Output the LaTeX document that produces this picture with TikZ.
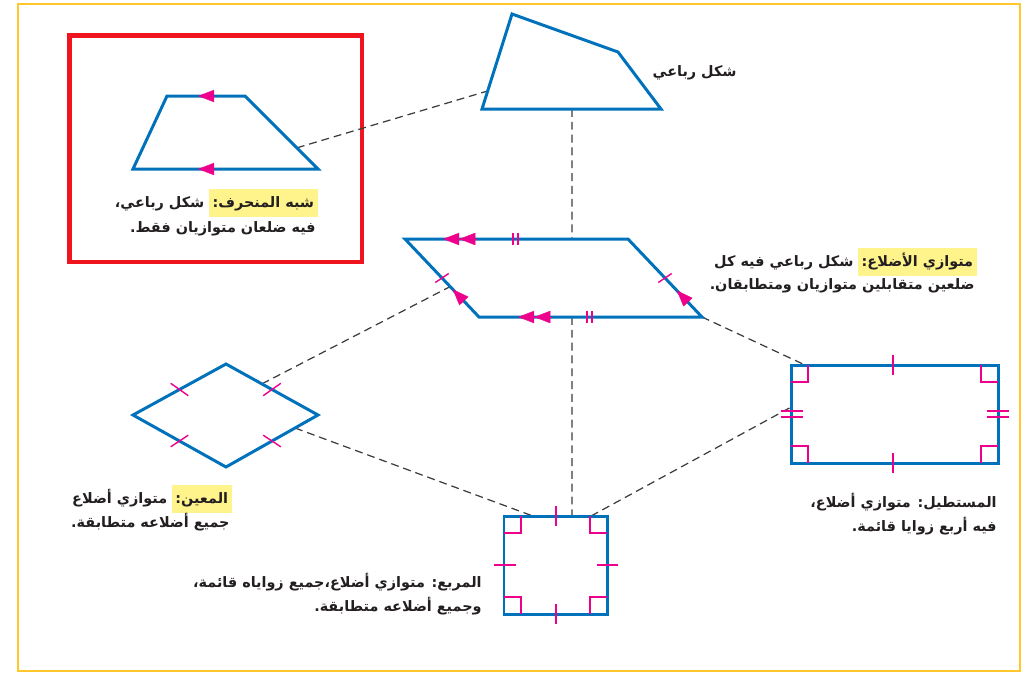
\documentclass[tikz,border=0pt]{standalone}
\usepackage{fontspec}
\newfontfamily\arabicfont[Script=Arabic]{DejaVu Sans}
\TeXXeTstate=1
\usetikzlibrary{arrows.meta,calc}
\definecolor{figblue}{RGB}{0,114,188}
\definecolor{figpink}{RGB}{236,0,140}
\definecolor{boxred}{RGB}{240,20,30}
\definecolor{frameyellow}{RGB}{255,199,44}
\definecolor{hlyellow}{RGB}{255,244,140}
\definecolor{linkgray}{RGB}{60,60,60}
\definecolor{textblack}{RGB}{35,31,32}
\tikzset{figline/.style = {draw = figblue,
                           line width = 1.7pt,
                           line join = miter},
         pinkline/.style = {draw = figpink,
                            line width = 0.8pt},
         pinktip/.style = {draw = figpink,
                           fill = figpink,
                           line width = 0.2pt,
                           -{Triangle[length=9.2pt,width=7pt]}},
         pinktwotips/.style = {draw = figpink,
                               fill = figpink,
                               line width = 0.2pt,
                               -{Triangle[length=9.2pt,width=7pt,sep=0pt] Triangle[length=9.2pt,width=7pt]}},
         link/.style = {draw = linkgray,
                        dash pattern = on 4.5pt off 2.8pt,
                        line width = 0.7pt},
         lbl/.style = {anchor = base east,
                       inner sep = 0pt,
                       text = textblack,
                       font = \arabicfont\bfseries\fontsize{8.2}{11}\selectfont},
         keyword/.style = {lbl,
                           fill = hlyellow,
                           inner xsep = 2pt,
                           inner ysep = 3pt,
                           text height = 7pt,
                           text depth = 2.5pt}}

\begin{document}
\begin{tikzpicture}[x=0.02cm, y=-0.02cm]
		\useasboundingbox (0,0) rectangle (1021,674);
		\draw[frameyellow, line width=1.2pt] (18,4) rectangle (1020,671);
		\draw[boxred, line width=2.5pt] (69.5,35.3) rectangle (361.7,261.8);

		% corners of the figures
		\coordinate (t1) at (167,96);
		\coordinate (t2) at (245,96);
		\coordinate (t3) at (318,169);
		\coordinate (t4) at (133,169);
		\coordinate (q1) at (512,14);
		\coordinate (q2) at (618,52);
		\coordinate (q3) at (661,109);
		\coordinate (q4) at (482,109);
		\coordinate (p1) at (405,239);
		\coordinate (p2) at (628,239);
		\coordinate (p3) at (702,317);
		\coordinate (p4) at (479,317);
		\coordinate (r1) at (226,364);
		\coordinate (r2) at (318,415);
		\coordinate (r3) at (226,467);
		\coordinate (r4) at (133,415);
		\coordinate (s1) at (504,516);
		\coordinate (s2) at (607,516);
		\coordinate (s3) at (607,614);
		\coordinate (s4) at (504,614);
		\coordinate (e1) at (791,365);
		\coordinate (e2) at (998,365);
		\coordinate (e3) at (998,463);
		\coordinate (e4) at (791,463);

		% dashed links
		\coordinate (trapTo) at ($(t2)!0.71!(t3)$);
		\coordinate (quadL) at ($(q1)!0.81!(q4)$);
		\coordinate (quadB) at ($(q4)!0.503!(q3)$);
		\coordinate (paraT) at ($(p1)!0.749!(p2)$);
		\coordinate (paraB) at ($(p4)!0.417!(p3)$);
		\coordinate (paraL) at ($(p1)!0.61!(p4)$);
		\coordinate (rhomUp) at ($(r1)!0.39!(r2)$);
		\coordinate (rhomDown) at ($(r2)!0.25!(r3)$);
		\coordinate (sqA) at ($(s1)!0.28!(s2)$);
		\coordinate (sqB) at ($(s1)!0.66!(s2)$);
		\coordinate (sqC) at ($(s1)!0.845!(s2)$);
		\coordinate (rectT) at ($(e1)!0.068!(e2)$);
		\coordinate (rectL) at ($(e1)!0.43!(e4)$);
		\path[link] (trapTo) edge (quadL);
		\path[link] (quadB) edge (paraT);
		\path[link] (paraB) edge (sqB);
		\path[link] (rhomUp) edge (paraL);
		\path[link] (rhomDown) edge (sqA);
		\path[link] (p3) edge (rectT);
		\path[link] (sqC) edge (rectL);

		% figures
		\draw[figline] (t1) -- (t2) -- (t3) -- (t4) -- cycle;
		\draw[figline] (q1) -- (q2) -- (q3) -- (q4) -- cycle;
		\draw[figline] (p1) -- (p2) -- (p3) -- (p4) -- cycle;
		\draw[figline] (r1) -- (r2) -- (r3) -- (r4) -- cycle;
		\draw[figline] (s1) -- (s2) -- (s3) -- (s4) -- cycle;
		\draw[figline] (e1) -- (e2) -- (e3) -- (e4) -- cycle;

		% trapezoid marks
		\draw[pinktip] (214,96) -- (198,96);
		\draw[pinktip] (214,169) -- (198,169);

		% parallelogram marks
		\draw[pinktwotips] (477,239) -- (443,239);
		\draw[pinktwotips] (552,317) -- (518,317);
		\draw[pinktip] ($(p1)!0.795!(p4)$) -- ($(p1)!0.645!(p4)$);
		\draw[pinktip] ($(p2)!0.81!(p3)$) -- ($(p2)!0.66!(p3)$);
		\draw[pinkline] ($(p1)!0.5!(p4)$) ++(-6.7,4.5) -- ++(13.4,-9);
		\draw[pinkline] ($(p2)!0.5!(p3)$) ++(-6.7,4.5) -- ++(13.4,-9);
		\draw[pinkline] (513,233) -- (513,245) (518,233) -- (518,245);
		\draw[pinkline] (587,311) -- (587,323) (592,311) -- (592,323);

		% rhombus marks
		\draw[pinkline] ($(r4)!0.5!(r1)$) ++(-8.8,-6.2) -- ++(17.6,12.4);
		\draw[pinkline] ($(r1)!0.5!(r2)$) ++(-8.8,6.2) -- ++(17.6,-12.4);
		\draw[pinkline] ($(r4)!0.5!(r3)$) ++(-8.8,5.8) -- ++(17.6,-11.6);
		\draw[pinkline] ($(r3)!0.5!(r2)$) ++(-8.8,-5.8) -- ++(17.6,11.6);

		% square marks
		\draw[pinkline] (556,506) -- (556,526);
		\draw[pinkline] (556,604) -- (556,624);
		\draw[pinkline] (494,565) -- (516,565);
		\draw[pinkline] (597,565) -- (618,565);
		\draw[pinkline] (521,516) -- (521,533) -- (504,533);
		\draw[pinkline] (590,516) -- (590,533) -- (607,533);
		\draw[pinkline] (521,614) -- (521,597) -- (504,597);
		\draw[pinkline] (590,614) -- (590,597) -- (607,597);

		% rectangle marks
		\draw[pinkline] (893,355) -- (893,375);
		\draw[pinkline] (893,453) -- (893,473);
		\draw[pinkline] (781,411) -- (803,411) (781,417) -- (803,417);
		\draw[pinkline] (987,411) -- (1009,411) (987,417) -- (1009,417);
		\draw[pinkline] (808,365) -- (808,382) -- (791,382);
		\draw[pinkline] (981,365) -- (981,382) -- (998,382);
		\draw[pinkline] (808,463) -- (808,446) -- (791,446);
		\draw[pinkline] (981,463) -- (981,446) -- (998,446);

		% labels
		\node[lbl] (quadLbl) at (737,76) {\beginR شكل رباعي\endR};

		\node[keyword] (trapKey) at (318,207) {\beginR شبه المنحرف:\endR};
		\node[lbl] (trapLbl) at ($(trapKey.base west)+(-4,0)$) {\beginR شكل رباعي،\endR};
		\node[lbl] (trapLblB) at (316,232) {\beginR فيه ضلعان متوازيان فقط.\endR};

		\node[keyword] (paraKey) at (977,266) {\beginR متوازي الأضلاع:\endR};
		\node[lbl] (paraLbl) at ($(paraKey.base west)+(-4,0)$) {\beginR شكل رباعي فيه كل\endR};
		\node[lbl] (paraLblB) at (975,289) {\beginR ضلعين متقابلين متوازيان ومتطابقان.\endR};

		\node[keyword] (rhomKey) at (232,503) {\beginR المعين:\endR};
		\node[lbl] (rhomLbl) at ($(rhomKey.base west)+(-4,0)$) {\beginR متوازي أضلاع\endR};
		\node[lbl] (rhomLblB) at (230,527) {\beginR جميع أضلاعه متطابقة.\endR};

		\node[lbl] (rectLbl) at (997,507) {\beginR المستطيل: متوازي أضلاع،\endR};
		\node[lbl] (rectLblB) at (997,531) {\beginR فيه أربع زوايا قائمة.\endR};

		\node[lbl] (sqLbl) at (482,587) {\beginR المربع: متوازي أضلاع،جميع زواياه قائمة،\endR};
		\node[lbl] (sqLblB) at (482,611) {\beginR وجميع أضلاعه متطابقة.\endR};
	\end{tikzpicture}
\end{document}
